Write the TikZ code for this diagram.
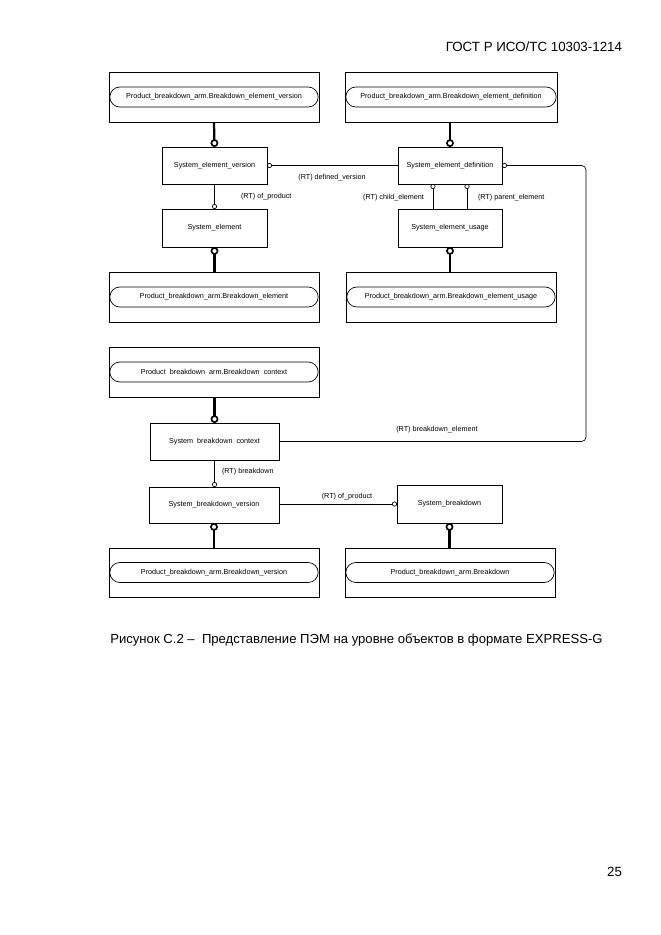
\documentclass[tikz,border=0pt]{standalone}
\usepackage{fontspec}
\setmainfont{Liberation Sans}
\usetikzlibrary{arrows.meta}
\begin{document}
\begin{tikzpicture}[x=0.9pt,y=-0.9pt,
  every node/.style={inner sep=0pt, outer sep=0pt},
  ent/.style={draw, line width=0.6pt, font=\fontsize{6.5pt}{8pt}\selectfont},
  outerbox/.style={draw, line width=0.6pt, minimum width=189pt, minimum height=45pt},
  pill/.style={draw, line width=0.6pt, rounded corners=9pt, minimum width=187.5pt, minimum height=18pt, font=\fontsize{6.5pt}{8pt}\selectfont},
  lbl/.style={font=\fontsize{6.5pt}{8pt}\selectfont},
  thickrel/.style={line width=2pt, -{Circle[open,length=7pt,width=7pt,line width=1.5pt]}},
  rel/.style={line width=0.6pt, -{Circle[open,length=4.5pt,width=4.5pt,line width=0.6pt]}}
]
\useasboundingbox (0,0) rectangle (661,935);

% header and page number
\node[anchor=east, font=\fontsize{12pt}{14pt}\selectfont] (hdr) at (622,47) {ГОСТ Р ИСО/ТС 10303-1214};
\node[anchor=east, font=\fontsize{12pt}{14pt}\selectfont] (pg) at (622,872) {25};

% outer boxes with pills
\node[outerbox] (o1) at (214,97) {};
\node[pill] (p1) at (214,97) {Product\_breakdown\_arm.Breakdown\_element\_version};
\node[outerbox, minimum width=190.8pt] (o2) at (451,97) {};
\node[pill, minimum width=189.3pt] (p2) at (451,97) {Product\_breakdown\_arm.Breakdown\_element\_definition};
\node[outerbox] (o3) at (214,297) {};
\node[pill] (p3) at (214,297) {Product\_breakdown\_arm.Breakdown\_element};
\node[outerbox] (o4) at (451,297) {};
\node[pill] (p4) at (451,297) {Product\_breakdown\_arm.Breakdown\_element\_usage};
\node[outerbox] (o5) at (214,372) {};
\node[pill] (p5) at (214,372) {Product\ \ breakdown\ \ arm.Breakdown\ \ context};
\node[outerbox, minimum height=44pt] (o6) at (214,572.5) {};
\node[pill] (p6) at (214,572.5) {Product\_breakdown\_arm.Breakdown\_version};
\node[outerbox, minimum height=44pt] (o7) at (450,572.5) {};
\node[pill] (p7) at (450,572.5) {Product\_breakdown\_arm.Breakdown};

% entity boxes
\node[ent, minimum width=94.5pt, minimum height=33.3pt] (sev) at (214.5,165.5) {System\_element\_version};
\node[ent, minimum width=94.5pt, minimum height=34.2pt] (se) at (214.5,228) {System\_element};
\node[ent, minimum width=93.6pt, minimum height=33.3pt] (sed) at (450,165.5) {System\_element\_definition};
\node[ent, minimum width=93.6pt, minimum height=34.2pt] (seu) at (450,228) {System\_element\_usage};
\node[ent, minimum width=116.1pt, minimum height=33.3pt] (sbc) at (214.5,441.5) {System\ \ breakdown\ \ context};
\node[ent, minimum width=117pt, minimum height=32.4pt] (sbv) at (214,505) {System\_breakdown\_version};
\node[ent, minimum width=94.5pt, minimum height=34.2pt] (sb) at (449.5,504) {System\_breakdown};

% thick (supertype) relations
\draw[thickrel] (o1.south) -- (sev.north);
\draw[thickrel] (o2.south -| sed.north) -- (sed.north);
\draw[thickrel] (o3.north -| se.south) -- (se.south);
\draw[thickrel] (o4.north -| seu.south) -- (seu.south);
\draw[thickrel] (o5.south -| sbc.north) -- (sbc.north);
\draw[thickrel] (o6.north -| sbv.south) -- (sbv.south);
\draw[thickrel] (o7.north -| sb.south) -- (sb.south);

% thin relations
\draw[rel] (sed.west) -- (sev.east);
\draw[rel] (sev.south) -- (se.north);
\draw[rel] ([xshift=-15.3pt]seu.north) -- ([xshift=-15.3pt]sed.south);
\draw[rel] ([xshift=15.3pt]seu.north) -- ([xshift=15.3pt]sed.south);
\coordinate (rc) at (586,300);
\draw[rel, rounded corners=4pt] (sbc.east) -| (rc) |- (sed.east);
\draw[rel] (sbc.south) -- (sbv.north -| sbc.south);
\draw[rel] (sb.west -| sbv.east) -- (sb.west);

% labels
\node[lbl] (l1) at (332,178) {(RT) defined\_version};
\node[lbl, anchor=west] (l2) at (241,197) {(RT) of\_product};
\node[lbl, anchor=east] (l3) at (424,198) {(RT) child\_element};
\node[lbl, anchor=west] (l4) at (478,198) {(RT) parent\_element};
\node[lbl] (l5) at (437,430) {(RT) breakdown\_element};
\node[lbl, anchor=west] (l6) at (222,472) {(RT) breakdown};
\node[lbl] (l7) at (347,497) {(RT) of\_product};

% caption
\node[font=\fontsize{11.8pt}{14pt}\selectfont] (cap) at (356.5,640) {Рисунок С.2 –\ \ Представление ПЭМ на уровне объектов в формате EXPRESS-G};
\end{tikzpicture}
\end{document}
